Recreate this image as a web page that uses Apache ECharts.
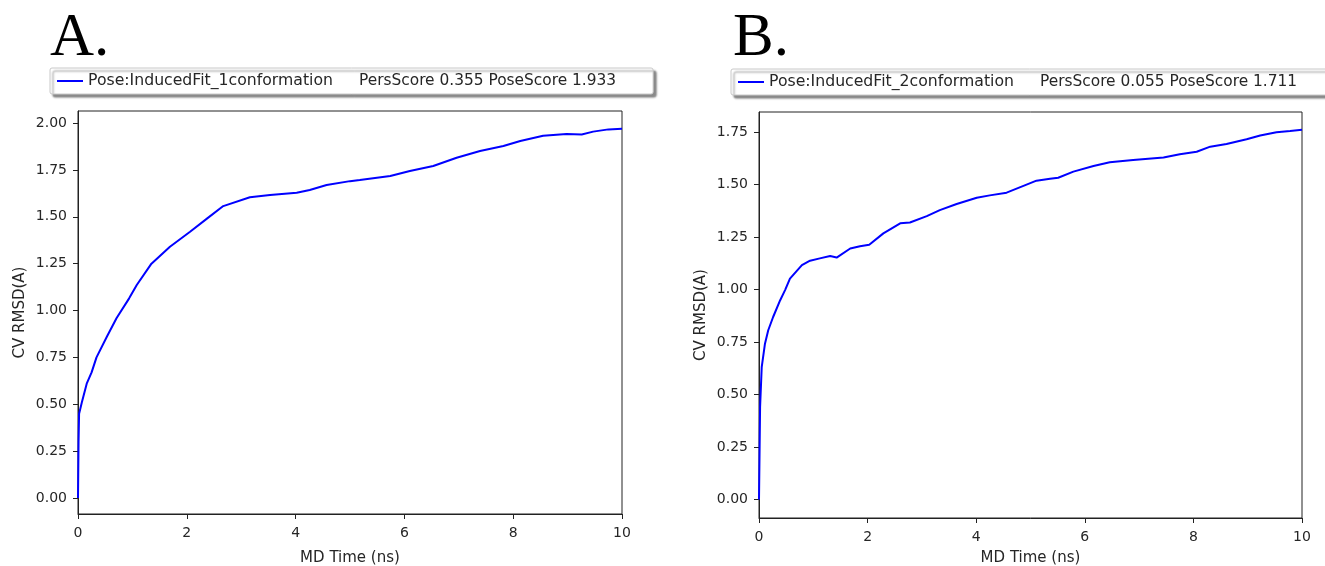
<!DOCTYPE html>
<html>
<head>
<meta charset="utf-8">
<script src="https://cdn.jsdelivr.net/npm/echarts@6/dist/echarts.min.js"></script>
<style>
  html, body { margin: 0; padding: 0; background: #fff; }
  #main { width: 1325px; height: 566px; }
</style>
</head>
<body>
<div id="main"></div>
<script>
// panel A: InducedFit_1conformation
var timeA = [0, 0.01, 0.02, 0.07, 0.16, 0.25, 0.34, 0.53, 0.71, 0.94, 1.08, 1.35, 1.69, 2.06, 2.37, 2.67,
  3.16, 3.53, 4.02, 4.26, 4.57, 5.0, 5.18, 5.74, 6.10, 6.53, 6.96, 7.39, 7.82, 8.13, 8.55, 8.98, 9.26, 9.47, 9.75, 10];
var rmsdA = [0, 0.3, 0.45, 0.51, 0.61, 0.67, 0.75, 0.86, 0.96, 1.065, 1.136, 1.25, 1.34, 1.42, 1.49, 1.557,
  1.604, 1.616, 1.628, 1.643, 1.669, 1.69, 1.696, 1.717, 1.744, 1.771, 1.815, 1.851, 1.877, 1.904, 1.932, 1.941, 1.939, 1.954, 1.966, 1.97];

// panel B: InducedFit_2conformation
var timeB = [0, 0.02, 0.05, 0.11, 0.17, 0.26, 0.39, 0.48, 0.57, 0.79, 0.94, 1.12, 1.31, 1.43, 1.68, 1.86, 2.03,
  2.29, 2.60, 2.78, 3.09, 3.33, 3.64, 4.01, 4.25, 4.56, 4.87, 5.11, 5.36, 5.51, 5.79, 6.16, 6.46, 6.89, 7.45,
  7.75, 8.06, 8.31, 8.61, 8.98, 9.23, 9.53, 9.78, 10];
var rmsdB = [0, 0.44, 0.63, 0.742, 0.806, 0.869, 0.949, 0.997, 1.052, 1.116, 1.137, 1.148, 1.159, 1.152, 1.195, 1.206, 1.213,
  1.267, 1.315, 1.319, 1.349, 1.378, 1.407, 1.437, 1.448, 1.461, 1.493, 1.518, 1.527, 1.532, 1.561, 1.588, 1.606, 1.617, 1.628,
  1.644, 1.656, 1.680, 1.693, 1.715, 1.733, 1.749, 1.755, 1.761];

var yTicksA = [0, 0.25, 0.5, 0.75, 1.0, 1.25, 1.5, 1.75, 2.0];
var yTicksB = [0, 0.25, 0.5, 0.75, 1.0, 1.25, 1.5, 1.75];

var nameA = 'Pose:InducedFit_1conformation';
var nameB = 'Pose:InducedFit_2conformation';
var scoreA = 'PersScore 0.355 PoseScore 1.933';
var scoreB = 'PersScore 0.055 PoseScore 1.711';

var font = 'DejaVu Sans';
var txt = '#262626';

function pairs(xs, ys) {
  return xs.map(function (x, i) { return [x, ys[i]]; });
}

function xAxis(idx, gap) {
  return {
    type: 'value', gridIndex: idx, min: 0, max: 10, interval: 2,
    name: 'MD Time (ns)', nameLocation: 'middle', nameGap: gap,
    nameTextStyle: { fontFamily: font, fontSize: 15, color: txt },
    axisLine: { onZero: false, lineStyle: { color: '#222', width: 1 } },
    axisTick: { length: 5, lineStyle: { color: '#222' } },
    axisLabel: { fontFamily: font, fontSize: 14, color: txt, margin: 12 },
    splitLine: { show: false }
  };
}

function yAxis(idx, min, max, ticks) {
  return {
    type: 'value', gridIndex: idx, min: min, max: max,
    name: 'CV RMSD(A)', nameLocation: 'middle', nameGap: 50,
    nameTextStyle: { fontFamily: font, fontSize: 15, color: txt },
    axisLine: { show: true, onZero: false, lineStyle: { color: '#222', width: 1 } },
    axisTick: { show: true, length: 5, customValues: ticks, lineStyle: { color: '#222' } },
    axisLabel: {
      fontFamily: font, fontSize: 14, color: txt, margin: 11, customValues: ticks,
      formatter: function (v) { return v.toFixed(2); }
    },
    splitLine: { show: false }
  };
}

function legend(left, top, name, score) {
  return {
    data: [{ name: name, icon: 'rect' }], left: left, top: top, orient: 'horizontal',
    backgroundColor: '#fff', borderColor: '#c8c8c8', borderWidth: 1, borderRadius: 2,
    shadowColor: 'rgba(0,0,0,0.45)', shadowBlur: 2, shadowOffsetX: 3, shadowOffsetY: 3,
    padding: [5, 37, 5, 7], itemWidth: 26, itemHeight: 2, selectedMode: false,
    formatter: function () { return '{a|' + name + '}{b|' + score + '}'; },
    textStyle: {
      rich: {
        a: { fontFamily: font, fontSize: 15.7, color: txt },
        b: { fontFamily: font, fontSize: 15.4, color: txt, padding: [0, 0, 0, 26] }
      }
    }
  };
}

var chart = echarts.init(document.getElementById('main'), null, { renderer: 'canvas' });
chart.setOption({
  backgroundColor: '#fff',
  animation: false,
  title: [
    { text: 'A.', left: 45, top: 3, textStyle: { fontFamily: 'Liberation Serif', fontSize: 61, fontWeight: 'normal', color: '#000' } },
    { text: 'B.', left: 728, top: 3, textStyle: { fontFamily: 'Liberation Serif', fontSize: 61, fontWeight: 'normal', color: '#000' } }
  ],
  legend: [legend(50, 68, nameA, scoreA), legend(731, 69, nameB, scoreB)],
  grid: [
    { left: 78, top: 111, width: 544, height: 403, outerBoundsMode: 'none', containLabel: false,
      show: true, borderColor: '#222', borderWidth: 1, backgroundColor: 'transparent' },
    { left: 759, top: 112, width: 543, height: 406, outerBoundsMode: 'none', containLabel: false,
      show: true, borderColor: '#222', borderWidth: 1, backgroundColor: 'transparent' }
  ],
  xAxis: [xAxis(0, 37), xAxis(1, 33)],
  yAxis: [yAxis(0, -0.085, 2.064, yTicksA), yAxis(1, -0.088, 1.845, yTicksB)],
  series: [
    {
      name: nameA, type: 'line', xAxisIndex: 0, yAxisIndex: 0, symbol: 'none',
      lineStyle: { color: '#0000ff', width: 2 }, itemStyle: { color: '#0000ff' },
      data: pairs(timeA, rmsdA)
    },
    {
      name: nameB, type: 'line', xAxisIndex: 1, yAxisIndex: 1, symbol: 'none',
      lineStyle: { color: '#0000ff', width: 2 }, itemStyle: { color: '#0000ff' },
      data: pairs(timeB, rmsdB)
    }
  ]
});
</script>
</body>
</html>
